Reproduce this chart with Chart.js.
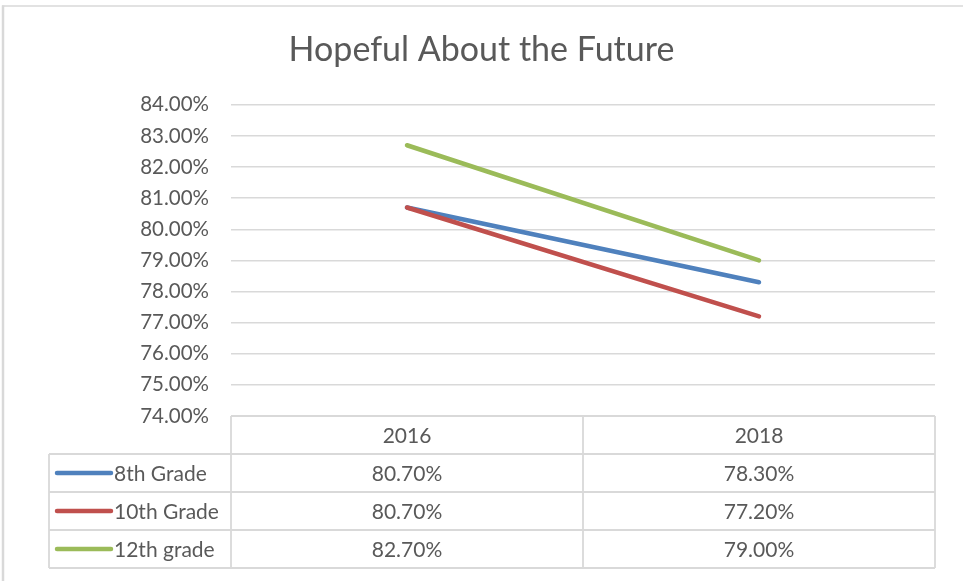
<!DOCTYPE html>
<html>
<head>
<meta charset="utf-8">
<script src="https://cdn.jsdelivr.net/npm/chart.js@4.4.0/dist/chart.umd.min.js"></script>
<style>
  html, body { margin: 0; padding: 0; background: #fff; }
  canvas { display: block; }
</style>
</head>
<body>
<canvas id="grafico" width="963" height="581"></canvas>
<script>
// dados do gráfico
const anos = ['2016', '2018'];
const nomesSeries = ['8th Grade', '10th Grade', '12th grade'];
const serie8 = [80.7, 78.3];
const serie10 = [80.7, 77.2];
const serie12 = [82.7, 79.0];
const eixoMin = 74;
const eixoMax = 84;
const eixoPasso = 1;

const coresSeries = ['#4F81BD', '#C0504D', '#9BBB59'];
const corTexto = '#595959';
const corGrade = '#d9d9d9';
const fonteBase = 'Lato, "Open Sans", sans-serif';

// tabela de dados embaixo do gráfico (estilo Excel)
const tabelaPlugin = {
    id: 'tabelaDados',
    beforeDraw(chart) {
        const ctx = chart.ctx;
        ctx.save();
        ctx.strokeStyle = corGrade;
        ctx.lineWidth = 2.5;
        ctx.beginPath();
        ctx.moveTo(3, 581);
        ctx.lineTo(3, 5.5);
        ctx.stroke();
        ctx.lineWidth = 1.5;
        ctx.beginPath();
        ctx.moveTo(2, 6);
        ctx.lineTo(963, 6);
        ctx.stroke();
        ctx.restore();
    },
    afterDraw(chart) {
        const ctx = chart.ctx;
        const area = chart.chartArea;
        const xs = chart.scales.x;
        const altLinha = 38;
        const esq = 49;
        const topo = area.bottom;
        const meio = (xs.getPixelForValue(0) + xs.getPixelForValue(1)) / 2;
        const base = topo + altLinha * (nomesSeries.length + 1);

        ctx.save();
        ctx.strokeStyle = corGrade;
        ctx.lineWidth = 1.8;
        ctx.beginPath();
        // linha de cima do cabeçalho
        ctx.moveTo(area.left, topo);
        ctx.lineTo(area.right, topo);
        for (let i = 1; i <= nomesSeries.length + 1; i++) {
            const y = topo + altLinha * i;
            ctx.moveTo(esq, y);
            ctx.lineTo(area.right, y);
        }
        ctx.moveTo(esq, topo + altLinha);
        ctx.lineTo(esq, base);
        [area.left, meio, area.right].forEach(x => {
            ctx.moveTo(x, topo);
            ctx.lineTo(x, base);
        });
        ctx.stroke();

        ctx.fillStyle = corTexto;
        ctx.font = '21px ' + fonteBase;
        ctx.textBaseline = 'middle';
        ctx.textAlign = 'center';
        anos.forEach((ano, i) => {
            ctx.fillText(ano, xs.getPixelForValue(i), topo + altLinha / 2 + 1);
        });

        const valores = [serie8, serie10, serie12];
        valores.forEach((serie, s) => {
            const yc = topo + altLinha * (s + 1) + altLinha / 2 + 1;
            ctx.strokeStyle = coresSeries[s];
            ctx.lineWidth = 4.5;
            ctx.lineCap = 'round';
            ctx.beginPath();
            ctx.moveTo(esq + 8, yc - 1);
            ctx.lineTo(esq + 62, yc - 1);
            ctx.stroke();
            ctx.textAlign = 'left';
            ctx.fillText(nomesSeries[s], esq + 65, yc);
            ctx.textAlign = 'center';
            serie.forEach((v, i) => {
                ctx.fillText(v.toFixed(2) + '%', xs.getPixelForValue(i), yc);
            });
        });
        ctx.restore();
    }
};

function initGrafico() {
    const ctx = document.getElementById('grafico').getContext('2d');
    const listas = [serie8, serie10, serie12];
    new Chart(ctx, {
        type: 'line',
        data: {
            labels: anos,
            datasets: listas.map((dados, i) => ({
                label: nomesSeries[i],
                data: dados,
                borderColor: coresSeries[i],
                backgroundColor: coresSeries[i],
                borderWidth: 4.5,
                borderCapStyle: 'round',
                pointRadius: 0,
                tension: 0,
                order: 3 - i
            }))
        },
        options: {
            responsive: false,
            animation: false,
            layout: { padding: { top: 0, left: 28, right: 28, bottom: 165 } },
            scales: {
                x: { type: 'category', offset: true, display: false },
                y: {
                    min: eixoMin,
                    max: eixoMax,
                    afterFit: (scale) => { scale.width = 203; },
                    border: { display: false },
                    grid: { color: corGrade, lineWidth: 1.5, drawTicks: false },
                    ticks: {
                        stepSize: eixoPasso,
                        padding: 22,
                        color: corTexto,
                        font: { family: fonteBase, size: 20.5 },
                        callback: (v) => v.toFixed(2) + '%'
                    }
                }
            },
            plugins: {
                legend: { display: false },
                tooltip: { enabled: false },
                title: {
                    display: true,
                    text: 'Hopeful About the Future',
                    color: corTexto,
                    font: { family: fonteBase, size: 34, weight: 400 },
                    padding: { top: 30, bottom: 34 }
                }
            }
        },
        plugins: [tabelaPlugin]
    });
}

document.addEventListener('DOMContentLoaded', initGrafico);
</script>
</body>
</html>
